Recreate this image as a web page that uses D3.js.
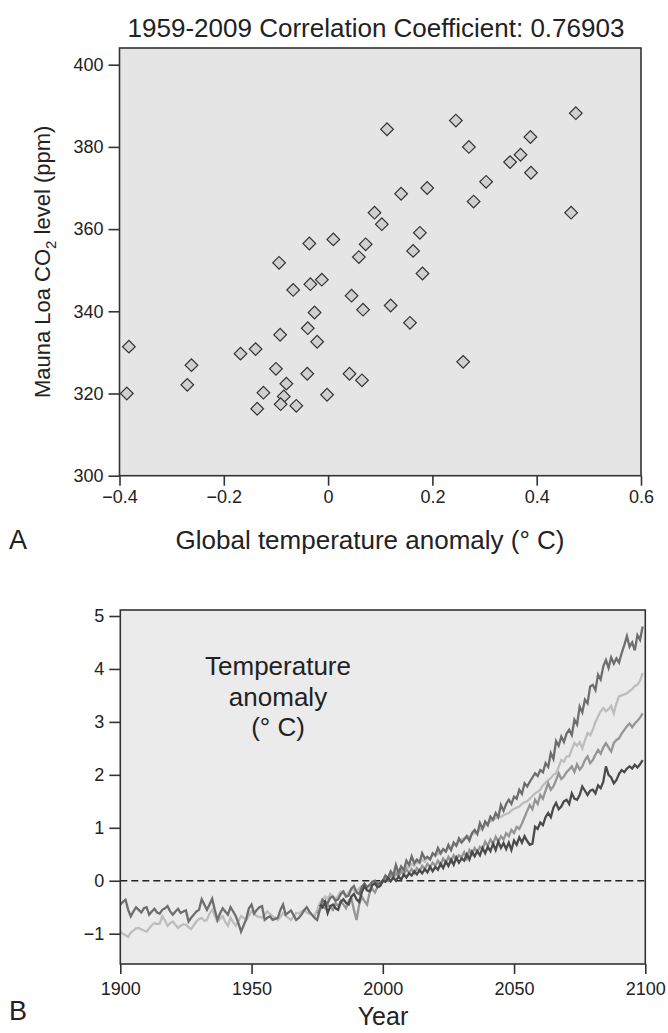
<!DOCTYPE html>
<html>
<head>
<meta charset="utf-8">
<script src="https://cdn.jsdelivr.net/npm/d3@7"></script>
<style>
  html, body { margin: 0; padding: 0; background: #ffffff; }
  svg { display: block; font-family: "Liberation Sans", Arial, Helvetica, sans-serif; }
</style>
</head>
<body>
<svg id="fig" width="668" height="1033"></svg>
<script>
// ---- Panel A: Mauna Loa CO2 vs global temperature anomaly, 1959-2009 ----
const tempAnomaly = [
  0.475, 0.245, 0.113, 0.388, 0.270, 0.369, 0.349, 0.389, 0.303, 0.190,
  0.140, 0.279, 0.089, 0.103, 0.466, 0.176, 0.010, 0.072, 0.059, 0.163,
  0.181, 0.045, -0.036, -0.094, -0.067, -0.034, -0.012, 0.067, -0.026, -0.039,
  -0.021, -0.092, -0.382, -0.262, -0.270, -0.386, -0.168, -0.139, -0.100, -0.040,
  -0.080, -0.124, -0.085, -0.091, -0.136, -0.061, -0.002, 0.041, 0.065, 0.120,
  0.157, 0.259
];
const co2Level = [
  388.2, 386.4, 384.3, 382.4, 380.0, 378.1, 376.3, 373.7, 371.5, 370.0,
  368.6, 366.7, 364.0, 361.2, 364.0, 359.1, 357.5, 356.3, 353.2, 354.7,
  349.2, 343.8, 356.5, 351.8, 345.2, 346.6, 347.7, 340.4, 339.7, 335.9,
  332.6, 334.3, 331.4, 326.9, 322.1, 320.0, 329.7, 330.8, 326.0, 324.8,
  322.4, 320.2, 319.3, 317.4, 316.3, 317.0, 319.7, 324.8, 323.2, 341.4,
  337.2, 327.7
];
const xTicksA = [-0.4, -0.2, 0, 0.2, 0.4, 0.6];
const yTicksA = [300, 320, 340, 360, 380, 400];

// ---- Panel B: temperature anomaly runs, 1900-2100 ----
const startUpper = 1900;
const runUpper = [
  -0.45,-0.40,-0.36,-0.55,-0.67,-0.58,-0.50,-0.55,-0.60,-0.52,
  -0.50,-0.64,-0.58,-0.53,-0.60,-0.62,-0.55,-0.52,-0.48,-0.58,
  -0.64,-0.58,-0.53,-0.61,-0.58,-0.56,-0.77,-0.70,-0.64,-0.58,
  -0.55,-0.35,-0.45,-0.55,-0.45,-0.34,-0.55,-0.74,-0.62,-0.52,
  -0.58,-0.64,-0.50,-0.58,-0.67,-0.80,-0.96,-0.84,-0.72,-0.52,
  -0.45,-0.62,-0.55,-0.50,-0.48,-0.74,-0.70,-0.67,-0.74,-0.72,
  -0.70,-0.55,-0.45,-0.64,-0.60,-0.56,-0.65,-0.74,-0.70,-0.64,
  -0.56,-0.50,-0.58,-0.64,-0.70,-0.74,-0.55,-0.36,-0.40,-0.42,
  -0.32,-0.30,-0.38,-0.35,-0.25,-0.20,-0.30,-0.28,-0.15,-0.10,
  -0.22,-0.25,-0.12,-0.05,-0.12,-0.08,-0.02,0.00,-0.06,-0.04,
  0.00,0.10,0.05,0.18,0.10,0.30,0.15,0.27,0.20,0.38,
  0.30,0.46,0.33,0.40,0.35,0.52,0.42,0.45,0.40,0.52,
  0.48,0.62,0.52,0.60,0.55,0.68,0.58,0.72,0.66,0.80,
  0.72,0.78,0.84,0.76,0.90,0.96,0.88,1.09,0.98,1.12,
  1.05,1.21,1.15,1.28,1.20,1.43,1.32,1.45,1.53,1.45,
  1.59,1.55,1.72,1.64,1.84,1.78,1.87,1.95,2.03,1.98,
  2.09,2.05,2.22,2.15,2.41,2.30,2.64,2.55,2.72,2.62,
  2.78,2.85,2.75,3.04,2.95,3.29,3.18,3.42,3.35,3.67,
  3.70,3.60,3.89,3.80,4.05,4.17,4.02,4.22,4.10,4.20,
  4.12,4.30,4.45,4.62,4.42,4.50,4.35,4.64,4.55,4.80
];
const startLight = 1900;
const runLight = [
  -0.96,-1.00,-1.03,-1.06,-0.98,-0.94,-0.90,-0.89,-0.92,-0.94,
  -0.96,-0.90,-0.84,-0.80,-0.82,-0.81,-0.67,-0.75,-0.85,-0.80,
  -0.77,-0.83,-0.89,-0.85,-0.82,-0.83,-0.88,-0.91,-0.84,-0.77,
  -0.72,-0.70,-0.76,-0.74,-0.62,-0.55,-0.66,-0.77,-0.72,-0.67,
  -0.78,-0.85,-0.70,-0.78,-0.85,-0.76,-0.67,-0.70,-0.74,-0.66,
  -0.58,-0.62,-0.67,-0.68,-0.70,-0.64,-0.58,-0.62,-0.67,-0.70,
  -0.74,-0.68,-0.61,-0.66,-0.70,-0.74,-0.68,-0.61,-0.62,-0.58,
  -0.55,-0.60,-0.62,-0.65,-0.67,-0.55,-0.42,-0.36,-0.30,-0.34,
  -0.25,-0.30,-0.35,-0.28,-0.20,-0.24,-0.30,-0.22,-0.15,-0.18,
  -0.20,-0.14,-0.10,-0.13,-0.15,-0.08,-0.05,-0.08,-0.10,-0.04,
  0.00,0.05,0.02,0.12,0.08,0.18,0.12,0.22,0.18,0.28,
  0.25,0.32,0.28,0.36,0.33,0.40,0.36,0.45,0.40,0.50,
  0.46,0.52,0.50,0.58,0.55,0.62,0.60,0.70,0.66,0.74,
  0.78,0.80,0.85,0.82,0.88,0.90,0.92,0.96,1.00,1.04,
  1.09,1.12,1.15,1.18,1.20,1.21,1.24,1.26,1.28,1.33,
  1.36,1.38,1.40,1.45,1.48,1.50,1.55,1.60,1.65,1.68,
  1.72,1.80,1.85,1.90,1.94,2.00,2.03,2.15,2.28,2.25,
  2.35,2.35,2.48,2.60,2.55,2.62,2.50,2.65,2.79,2.75,
  2.85,3.00,3.10,3.20,3.26,3.20,3.24,3.30,3.16,3.35,
  3.48,3.50,3.52,3.54,3.58,3.62,3.68,3.70,3.78,3.92
];
const startMid = 1975;
const runMid = [
  -0.62,-0.55,-0.48,-0.52,-0.45,
  -0.50,-0.55,-0.42,-0.48,-0.38,-0.45,-0.52,-0.38,-0.32,-0.55,
  -0.74,-0.45,-0.30,-0.38,-0.45,-0.22,-0.15,-0.22,-0.12,-0.08,
  -0.02,0.05,0.00,0.10,0.05,0.14,0.08,0.18,0.12,0.22,
  0.15,0.22,0.14,0.24,0.18,0.28,0.22,0.32,0.26,0.34,
  0.28,0.38,0.30,0.42,0.34,0.45,0.36,0.48,0.40,0.48,
  0.44,0.54,0.42,0.58,0.50,0.62,0.54,0.64,0.60,0.74,
  0.66,0.78,0.70,0.83,0.74,0.84,0.78,0.90,0.84,0.96,
  0.90,1.02,0.98,1.08,1.20,1.32,1.43,1.35,1.53,1.45,
  1.62,1.55,1.70,1.84,1.72,1.78,1.90,2.03,1.92,1.97,
  2.05,2.10,2.16,2.05,2.20,2.10,2.16,2.28,2.35,2.22,
  2.28,2.38,2.47,2.40,2.52,2.60,2.52,2.44,2.60,2.66,
  2.69,2.78,2.85,2.92,2.97,2.90,2.97,3.02,3.08,3.16
];
const startLow = 1976;
const runLow = [
  -0.45,-0.50,-0.40,-0.61,
  -0.48,-0.45,-0.52,-0.55,-0.40,-0.35,-0.42,-0.45,-0.30,-0.25,
  -0.35,-0.40,-0.22,-0.10,-0.18,-0.20,-0.08,-0.05,-0.12,-0.10,
  0.00,-0.02,0.05,-0.01,0.06,0.00,0.08,0.02,0.12,0.06,
  0.14,0.10,0.18,0.12,0.20,0.14,0.22,0.16,0.26,0.18,
  0.26,0.21,0.32,0.24,0.36,0.28,0.40,0.30,0.44,0.34,
  0.42,0.38,0.50,0.40,0.55,0.46,0.56,0.48,0.62,0.52,
  0.64,0.56,0.70,0.58,0.74,0.62,0.71,0.60,0.72,0.58,
  0.76,0.68,0.82,0.72,0.84,0.75,0.68,0.70,1.02,0.98,
  1.10,1.05,1.20,1.28,1.20,1.38,1.47,1.35,1.40,1.50,
  1.53,1.45,1.65,1.55,1.53,1.62,1.78,1.70,1.62,1.70,
  1.72,1.65,1.80,1.75,1.87,2.16,2.00,1.95,1.84,1.90,
  2.02,2.09,2.05,2.12,2.16,2.12,2.19,2.14,2.20,2.28
];
const xTicksB = [1900, 1950, 2000, 2050, 2100];
const yTicksB = [-1, 0, 1, 2, 3, 4, 5];

const svg = d3.select("#fig");
const ink = "#222";
const frameInk = "#333";

// ---------- Panel A ----------
const xA = d3.scaleLinear().domain([-0.4, 0.6]).range([119.5, 641]);
const yA = d3.scaleLinear().domain([300, 400]).range([475.7, 64.7]);
const topA = 48;

const gA = svg.append("g");
gA.append("rect")
  .attr("x", xA(-0.4)).attr("y", topA)
  .attr("width", xA(0.6) - xA(-0.4)).attr("height", yA(300) - topA)
  .attr("fill", "#e5e5e5").attr("stroke", frameInk).attr("stroke-width", 1.6);

const axA_x = gA.append("g").attr("transform", `translate(0,${yA(300)})`)
  .call(d3.axisBottom(xA).tickValues(xTicksA).tickSize(10).tickPadding(5)
    .tickFormat(d => d === 0 ? "0" : d3.format(".1f")(d).replace("-", "\u2212")));
const axA_y = gA.append("g").attr("transform", `translate(${xA(-0.4)},0)`)
  .call(d3.axisLeft(yA).tickValues(yTicksA).tickSize(11).tickPadding(5));
[axA_x, axA_y].forEach(ax => {
  ax.select(".domain").remove();
  ax.selectAll(".tick line").attr("stroke", frameInk).attr("stroke-width", 1.6);
  ax.selectAll(".tick text").attr("fill", ink).style("font-size", "18px");
});

const diamond = d3.symbol().type(d3.symbolSquare).size(80);
gA.append("g").selectAll("path")
  .data(tempAnomaly.map((t, i) => ({ t, c: co2Level[i] })))
  .join("path")
  .attr("d", diamond)
  .attr("transform", d => `translate(${xA(d.t)},${yA(d.c)}) rotate(45)`)
  .attr("fill", "#d0d0d0").attr("stroke", "#333").attr("stroke-width", 1.2);

svg.append("text").attr("x", 376).attr("y", 37).attr("text-anchor", "middle")
  .style("font-size", "26px").attr("fill", ink)
  .text("1959-2009 Correlation Coefficient: 0.76903");

const yLab = svg.append("text")
  .attr("transform", `translate(50,${(topA + yA(300)) / 2}) rotate(-90)`)
  .attr("text-anchor", "middle").style("font-size", "22px").attr("fill", ink);
yLab.append("tspan").text("Mauna Loa CO");
yLab.append("tspan").attr("dy", 6).style("font-size", "15px").text("2");
yLab.append("tspan").attr("dy", -6).text(" level (ppm)");

svg.append("text").attr("x", 370).attr("y", 549).attr("text-anchor", "middle")
  .style("font-size", "26px").attr("fill", ink)
  .text("Global temperature anomaly (\u00B0 C)");
svg.append("text").attr("x", 9).attr("y", 549)
  .style("font-size", "27px").attr("fill", ink).text("A");

// ---------- Panel B ----------
const xB = d3.scaleLinear().domain([1900, 2100]).range([120.3, 645.3]);
const yB = d3.scaleLinear().domain([-1, 5]).range([933.7, 616]);
const topB = 610, bottomB = 964;

const gB = svg.append("g");
gB.append("rect")
  .attr("x", xB(1900)).attr("y", topB)
  .attr("width", xB(2100) - xB(1900)).attr("height", bottomB - topB)
  .attr("fill", "#ebebeb");

svg.append("clipPath").attr("id", "plotB")
  .append("rect").attr("x", xB(1900)).attr("y", topB)
  .attr("width", xB(2100) - xB(1900)).attr("height", bottomB - topB);

gB.append("line")
  .attr("x1", xB(1900)).attr("x2", xB(2100))
  .attr("y1", yB(0)).attr("y2", yB(0))
  .attr("stroke", "#222").attr("stroke-width", 1.4)
  .attr("stroke-dasharray", "7,4");

const line = d3.line().x(d => xB(d.year)).y(d => yB(d.v));
const runs = [
  { start: startLight, values: runLight, color: "#bdbdbd" },
  { start: startMid, values: runMid, color: "#959595" },
  { start: startUpper, values: runUpper, color: "#6e6e6e" },
  { start: startLow, values: runLow, color: "#4a4a4a" }
];
gB.append("g").attr("clip-path", "url(#plotB)")
  .selectAll("path").data(runs).join("path")
  .attr("d", r => line(r.values.map((v, i) => ({ year: r.start + i, v }))))
  .attr("fill", "none").attr("stroke", r => r.color)
  .attr("stroke-width", 2.3).attr("stroke-linejoin", "miter");

gB.append("rect")
  .attr("x", xB(1900)).attr("y", topB)
  .attr("width", xB(2100) - xB(1900)).attr("height", bottomB - topB)
  .attr("fill", "none").attr("stroke", frameInk).attr("stroke-width", 1.6);

const axB_x = gB.append("g").attr("transform", `translate(0,${bottomB})`)
  .call(d3.axisBottom(xB).tickValues(xTicksB).tickSize(10).tickPadding(8)
    .tickFormat(d3.format("d")));
const axB_y = gB.append("g").attr("transform", `translate(${xB(1900)},0)`)
  .call(d3.axisLeft(yB).tickValues(yTicksB).tickSize(11).tickPadding(5)
    .tickFormat(d => d < 0 ? "\u2212" + Math.abs(d) : String(d)));
[axB_x, axB_y].forEach(ax => {
  ax.select(".domain").remove();
  ax.selectAll(".tick line").attr("stroke", frameInk).attr("stroke-width", 1.6);
  ax.selectAll(".tick text").attr("fill", ink).style("font-size", "18px");
});

const note = svg.append("text").attr("text-anchor", "middle")
  .style("font-size", "26px").attr("fill", ink);
["Temperature", "anomaly", "(\u00B0 C)"].forEach((s, i) => {
  note.append("tspan").attr("x", 278).attr("y", 675 + i * 30.5).text(s);
});

svg.append("text").attr("x", 383).attr("y", 1025).attr("text-anchor", "middle")
  .style("font-size", "25px").attr("fill", ink).text("Year");
svg.append("text").attr("x", 9).attr("y", 1020)
  .style("font-size", "27px").attr("fill", ink).text("B");
</script>
</body>
</html>
